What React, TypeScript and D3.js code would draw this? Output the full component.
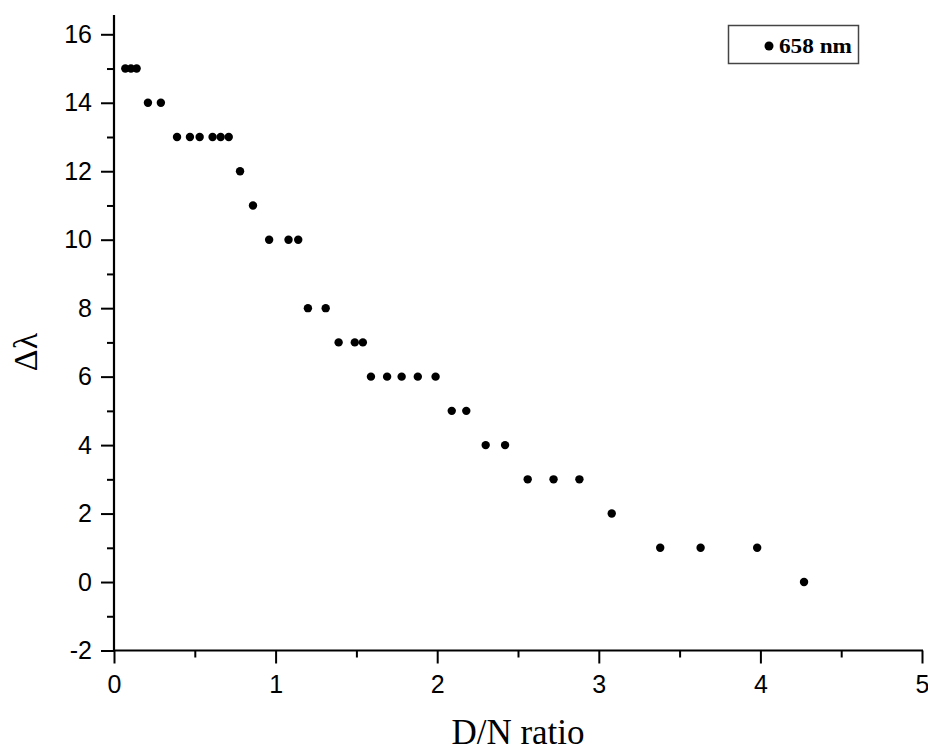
import { useEffect, useRef } from "react";
import * as d3 from "d3";

// D/N ratio vs. Δλ
const ratio = [
  0.07, 0.105, 0.14,
  0.21, 0.29,
  0.39, 0.47, 0.53, 0.61, 0.66, 0.71,
  0.78,
  0.86,
  0.96, 1.08, 1.14,
  1.2, 1.31,
  1.39, 1.49, 1.54,
  1.59, 1.69, 1.78, 1.88, 1.99,
  2.09, 2.18,
  2.3, 2.42,
  2.56, 2.72, 2.88,
  3.08,
  3.38, 3.63, 3.98,
  4.27,
];
const shift = [
  15, 15, 15,
  14, 14,
  13, 13, 13, 13, 13, 13,
  12,
  11,
  10, 10, 10,
  8, 8,
  7, 7, 7,
  6, 6, 6, 6, 6,
  5, 5,
  4, 4,
  3, 3, 3,
  2,
  1, 1, 1,
  0,
];
const xMajor = [0, 1, 2, 3, 4, 5];
const xMinor = [0.5, 1.5, 2.5, 3.5, 4.5];
const yMajor = [-2, 0, 2, 4, 6, 8, 10, 12, 14, 16];
const yMinor = [-1, 1, 3, 5, 7, 9, 11, 13, 15];
const seriesName = "658 nm";

const W = 928;
const H = 754;
const serif = "'Liberation Serif', 'Times New Roman', serif";

const App = () => {
  const svgRef = useRef<SVGSVGElement>(null);

  useEffect(() => {
    const svg = d3.select(svgRef.current);
    svg.selectAll("*").remove();

    const x = d3.scaleLinear().domain([0, 5]).range([114, 922]);
    const y = d3.scaleLinear().domain([-2, 16]).range([650.5, 34.3]);
    const x0 = x(0);
    const y0 = y(-2);
    const plain = (d: d3.NumberValue) => String(d); // hyphen minus like the original

    // minor ticks
    const xMinorG = svg.append("g").attr("transform", `translate(0,${y0})`);
    xMinorG.call(d3.axisBottom(x).tickValues(xMinor).tickSize(7).tickFormat(() => ""));
    const yMinorG = svg.append("g").attr("transform", `translate(${x0},0)`);
    yMinorG.call(d3.axisLeft(y).tickValues(yMinor).tickSize(7).tickFormat(() => ""));

    // major ticks + labels
    const xAxisG = svg.append("g").attr("transform", `translate(0,${y0})`);
    xAxisG.call(d3.axisBottom(x).tickValues(xMajor).tickSize(13).tickPadding(12).tickFormat(plain));
    const yAxisG = svg.append("g").attr("transform", `translate(${x0},0)`);
    yAxisG.call(d3.axisLeft(y).tickValues(yMajor).tickSize(13).tickPadding(9).tickFormat(plain));

    for (const g of [xMinorG, yMinorG, xAxisG, yAxisG]) {
      g.select(".domain").remove();
      g.selectAll(".tick line").attr("stroke", "#000").attr("stroke-width", 2);
      g.selectAll(".tick text")
        .attr("fill", "#000")
        .style("font-family", "'Liberation Sans', Arial, sans-serif")
        .style("font-size", "25px");
    }

    // axis lines
    svg.append("line")
      .attr("x1", x0).attr("x2", x0)
      .attr("y1", 15).attr("y2", y0 + 1)
      .attr("stroke", "#000").attr("stroke-width", 2.2);
    svg.append("line")
      .attr("x1", x0 - 1).attr("x2", x(5) + 1)
      .attr("y1", y0).attr("y2", y0)
      .attr("stroke", "#000").attr("stroke-width", 2.2);

    // points
    svg.append("g")
      .selectAll("circle")
      .data(ratio.map((r, i) => [r, shift[i]]))
      .join("circle")
      .attr("cx", d => x(d[0]))
      .attr("cy", d => y(d[1]))
      .attr("r", 4.2)
      .attr("fill", "#000");

    // axis titles
    svg.append("text")
      .attr("x", (x(0) + x(5)) / 2)
      .attr("y", 744)
      .attr("text-anchor", "middle")
      .style("font-family", serif)
      .style("font-size", "35px")
      .text("D/N ratio");

    svg.append("text")
      .attr("transform", `translate(37,352) rotate(-90)`)
      .attr("text-anchor", "middle")
      .style("font-family", serif)
      .style("font-size", "34px")
      .text("Δλ");

    // legend
    const leg = svg.append("g");
    leg.append("rect")
      .attr("x", 728.5).attr("y", 25.5)
      .attr("width", 130).attr("height", 38)
      .attr("fill", "#fff")
      .attr("stroke", "#444").attr("stroke-width", 1.5);
    leg.append("circle").attr("cx", 769).attr("cy", 46).attr("r", 4.5).attr("fill", "#000");
    leg.append("text")
      .attr("x", 779).attr("y", 52.5)
      .attr("textLength", 73)
      .attr("lengthAdjust", "spacingAndGlyphs")
      .style("font-family", serif)
      .style("font-size", "20px")
      .style("font-weight", "bold")
      .text(seriesName);
  }, []);

  return (
    <svg
      ref={svgRef}
      width={W}
      height={H}
      style={{ position: "absolute", left: 0, top: 0, background: "#fff" }}
    />
  );
};

export default App;
